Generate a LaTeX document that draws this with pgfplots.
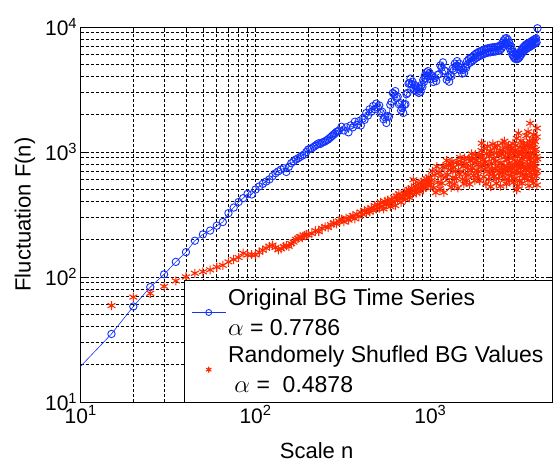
\documentclass[border=0pt]{standalone}
\usepackage{fontspec}
\setmainfont{Liberation Sans}
\usepackage{pgfplots}
\pgfplotsset{compat=1.18}

\definecolor{bgblue}{RGB}{20,50,255}
\definecolor{bgred}{RGB}{255,40,0}

\begin{document}
\begin{tikzpicture}
\begin{axis}[
    scale only axis,
    width=472pt, height=375pt,
    xmode=log, ymode=log,
    xmin=10, xmax=5000,
    ymin=10, ymax=10000,
    xtick={10,100,1000},
    xticklabels={10\textsuperscript{1},10\textsuperscript{2},10\textsuperscript{3}},
    ytick={10,100,1000,10000},
    yticklabels={10\textsuperscript{1},10\textsuperscript{2},10\textsuperscript{3},10\textsuperscript{4}},
    minor xtick={20,30,40,50,60,70,80,90,200,300,400,500,600,700,800,900,2000,3000,4000},
    minor ytick={20,30,40,50,60,70,80,90,200,300,400,500,600,700,800,900,2000,3000,4000,5000,6000,7000,8000,9000},
    grid=both,
    major grid style={black, dash pattern=on 3pt off 2pt, line width=0.6pt},
    minor grid style={black, dash pattern=on 3pt off 2pt, line width=0.6pt},
    tick align=inside,
    major tick length=5pt, minor tick length=3pt,
    axis line style={black, line width=0.8pt},
    tick style={black, line width=0.6pt},
    ticklabel style={font=\fontsize{21}{24}\selectfont},
    label style={font=\fontsize{22}{26}\selectfont},
    xlabel={Scale n},
    ylabel={Fluctuation F(n)},
    xlabel style={yshift=-12pt},
    ylabel style={yshift=3pt},
    legend style={at={(1,0)}, anchor=south east, draw=black, fill=white,
        font=\fontsize{23}{30}\selectfont,
        cells={anchor=west, align=left},
        inner xsep=7pt, inner ysep=6pt, row sep=5pt},
]
% Original BG time series
\addplot[bgblue, line width=0.6pt, mark=o, mark size=3.7pt,
    mark options={line width=0.9pt, solid},
    legend image code/.code={\draw[mark repeat=2,mark phase=2,mark size=3pt]
        plot coordinates {(0cm,0cm) (0.6cm,0cm) (1.2cm,0cm)};}]
coordinates {
(8,13.9) (15,35) (20,58) (25,83) (30,105) (35,132) (40,158) (45,195) (50,219)
(55,235) (60,257) (65,275) (70,324) (75,359) (80,398) (85,427) (90,462) (95,457)
(100,501) (105,530) (110,556) (115,580) (120,603) (125,640) (130,676) (135,700)
(140,724) (145,740) (150,692) (155,760) (160,813) (165,840) (170,871) (175,890)
(180,912) (185,935) (190,955) (195,1000) (200,1047) (205,1060) (210,1072)
(215,1100) (220,1122) (225,1150) (230,1175) (235,1160) (240,1189) (245,1200)
(250,1216) (255,1240) (260,1259) (265,1290) (270,1318) (275,1350) (280,1380)
(285,1410) (290,1445) (295,1465) (300,1479)
(310,1592) (320,1487) (330,1575) (340,1436) (350,1630) (360,1575) (370,1746)
(380,1649) (390,1766) (400,1630) (410,1849) (420,1809) (430,2051) (440,1960)
(450,2198) (460,2100) (470,2329) (480,2199) (490,2438) (500,2276) (510,2356)
(520,2052) (530,2099) (540,1829) (550,1893) (560,1707) (570,1936) (580,1915)
(590,2383) (600,2525) (610,2965) (620,2899) (630,3069) (640,2705) (650,2767)
(660,2412) (670,2466) (680,2149) (690,2250) (700,2052) (710,2383) (720,2412)
(730,2897) (740,2966) (750,3524) (760,3566) (770,3864) (780,3486) (790,3648)
(800,3252) (810,3443) (820,3107) (830,3327) (840,3036) (850,3251) (860,2966)
(870,3214) (880,3036) (890,3443) (900,3328) (910,3776) (920,3650) (930,4093)
(940,3911) (950,4336) (960,4095) (970,4437) (980,4048) (990,4286) (1000,3822)
(1020,4046) (1040,3633) (1060,3908) (1080,3692) (1100,4140) (1120,4190)
(1140,4921) (1160,4757) (1180,5212) (1200,4490) (1220,4437) (1240,3779)
(1260,3981) (1280,3650) (1300,4140) (1320,4048) (1340,4646) (1360,4490)
(1380,5094) (1400,4867) (1420,5334) (1440,4867) (1460,5094) (1480,4543)
(1500,4700) (1520,4239) (1540,4540) (1560,4288) (1580,4809) (1600,4702)
(1620,5334) (1640,5038) (1660,5546) (1680,5179) (1700,5650) (1720,5275)
(1740,5781) (1760,5423) (1780,5957) (1800,5588) (1820,6124) (1840,5692)
(1860,6209) (1880,5785) (1900,6339) (1920,5892) (1940,6413) (1960,5946)
(1980,6486) (2000,6058)
(2025,6593) (2050,6128) (2075,6684) (2100,6199) (2125,6745) (2150,6270)
(2175,6792) (2200,6270) (2225,6840) (2250,6343) (2275,6871) (2300,6343)
(2325,6887) (2350,6372) (2375,6919) (2400,6416) (2425,6967) (2450,6461)
(2475,7015) (2500,6491) (2525,7146) (2550,6718) (2575,7447) (2600,7035)
(2625,7799) (2650,7367) (2675,8091) (2700,7538) (2725,8147) (2750,7452)
(2775,7907) (2800,7116) (2825,7499) (2850,6718) (2875,7064) (2900,6343)
(2925,6668) (2950,5988) (2975,6339) (3000,5719) (3025,6124) (3050,5588)
(3075,6012) (3100,5524) (3125,5999) (3150,5550) (3175,6054) (3200,5627)
(3225,6181) (3250,5785) (3275,6369) (3300,5988) (3325,6593) (3350,6199)
(3375,6792) (3400,6343) (3425,6950) (3450,6491) (3475,7096) (3500,6612)
(3525,7228) (3550,6718) (3575,7329) (3600,6796) (3625,7396) (3650,6875)
(3675,7482) (3700,6954) (3725,7569) (3750,7035) (3775,7656) (3800,7116)
(3825,7745) (3850,7199) (3875,7835) (3900,7283) (3925,7926) (3950,7367)
(3975,8017) (4000,7452) (4025,8110) (4050,7538) (4096,9772)
};
\addlegendentry{Original BG Time Series\\$\alpha$ = 0.7786}
% Randomly shuffled BG values
\addplot[bgred, only marks, mark=asterisk, mark size=4.5pt,
    mark options={line width=1.1pt},
    legend image code/.code={\draw[mark size=3pt,line width=0.8pt]
        plot coordinates {(0.6cm,0cm)};}]
coordinates {
(15,59) (20,69) (25,74) (30,84) (35,93) (40,100) (45,107) (50,110) (55,114)
(60,120) (65,124) (70,132) (75,138) (80,143) (85,155) (90,150) (95,151)
(100,150) (105,158) (110,164) (115,170) (120,176) (125,180) (130,172)
(135,165) (140,168) (145,175) (150,178) (155,176) (160,185) (165,190)
(170,200) (175,204) (180,210) (185,206) (190,214) (195,218) (200,217)
(210,222) (220,235) (230,230) (240,245) (250,252) (260,248) (270,262)
(280,270) (290,266) (300,280)
(310,290) (320,276) (330,296) (340,285) (350,300) (360,310) (370,292)
(380,318) (390,305) (400,330) (410,316) (420,340) (430,325) (440,348)
(450,332) (460,356) (470,340) (480,372) (490,350) (500,380) (510,356)
(520,395) (530,368) (540,350) (550,402) (560,378) (570,412) (580,385)
(590,365) (600,418) (610,395) (620,430) (630,372) (640,445) (650,410)
(660,462) (670,425) (680,395) (690,452) (700,438) (710,470) (720,420)
(730,485) (740,448) (750,500) (760,430) (770,478) (780,515) (790,462)
(800,600) (810,490) (820,530) (830,470) (840,545) (850,505) (860,560)
(870,480) (880,525) (890,575) (900,540) (910,505) (920,590) (930,555)
(940,520) (950,610) (960,565) (970,535) (980,630) (990,580) (1000,545)
(1015,593) (1030,704) (1045,516) (1060,652) (1075,473) (1090,764) (1105,571)
(1120,691) (1135,508) (1150,642) (1165,563) (1180,761) (1195,474) (1210,750)
(1225,628) (1240,854) (1255,659) (1270,780) (1285,571) (1297,813) (1300,719)
(1315,521) (1330,839) (1345,626) (1360,756) (1375,556) (1390,700) (1405,614)
(1420,829) (1435,515) (1450,794) (1465,664) (1480,904) (1495,697) (1510,828)
(1525,606) (1540,765) (1555,555) (1570,893) (1585,666) (1600,805) (1615,592)
(1630,747) (1645,655) (1660,885) (1675,551) (1690,848) (1705,710) (1720,966)
(1735,746) (1750,884) (1765,647) (1780,815) (1795,591) (1810,951) (1825,711)
(1840,859) (1855,631) (1870,796) (1885,698) (1900,943) (1915,587) (1930,903)
(1945,756) (1960,1026) (1968,1175) (1975,790) (1990,932)
(2005,869) (2020,633) (2035,1068) (2050,729) (2065,832) (2080,555) (2095,967)
(2110,699) (2125,1112) (2140,771) (2155,604) (2170,923) (2185,677) (2200,1020)
(2215,527) (2230,814) (2245,951) (2260,719) (2275,1160) (2290,632) (2305,881)
(2320,641) (2335,1083) (2350,738) (2365,843) (2380,562) (2395,981) (2410,708)
(2425,1127) (2440,781) (2455,613) (2470,935) (2485,686) (2500,1034) (2515,533)
(2530,825) (2545,963) (2560,729) (2575,1175) (2590,641)
(2605,681) (2620,1015) (2635,772) (2650,1219) (2665,602) (2680,911) (2695,717)
(2710,1084) (2725,554) (2740,865) (2755,759) (2770,980) (2785,654) (2800,1129)
(2815,810) (2830,590) (2845,943) (2860,705) (2875,1042) (2890,747)
(2905,1068) (2920,641) (2935,889) (2950,741) (2965,1170) (2980,569) (2995,973)
(3010,792) (3025,685) (3040,1025) (3055,612) (3070,1125) (3085,836) (3100,721)
(3115,1285) (3118,497) (3130,672) (3145,921) (3160,532) (3175,1006) (3185,1413)
(3190,782)
(3205,741) (3220,949) (3235,592) (3250,1092) (3265,834) (3280,685) (3295,1228)
(3310,777) (3325,995) (3340,561) (3355,879) (3370,1056) (3385,654) (3400,1166)
(3415,764) (3430,916) (3445,614) (3460,1127) (3475,724) (3490,985)
(3505,1037) (3520,717) (3535,1350) (3550,650) (3565,904) (3580,803) (3595,1159)
(3610,592) (3620,1450) (3625,957) (3640,746) (3655,1094) (3670,535) (3685,866)
(3700,1223) (3715,689) (3720,1698) (3730,987) (3745,783) (3760,1133) (3775,639)
(3790,895)
(3805,828) (3820,1084) (3835,615) (3850,1274) (3865,744) (3880,958) (3895,565)
(3900,1380) (3910,1157) (3925,806) (3940,1029) (3955,687) (3970,1211) (3985,860)
(4000,760) (4015,1050) (4030,640) (4045,920) (4060,1320) (4064,1549) (4064,544)
(4075,700) (4090,880)
};
\addlegendentry{Randomely Shufled BG Values\\\ $\alpha$ =\ \ 0.4878}
\end{axis}
\path (current axis.south west) ++(-80.7pt,-60pt) rectangle ++(553pt,462pt);
\end{tikzpicture}
\end{document}
